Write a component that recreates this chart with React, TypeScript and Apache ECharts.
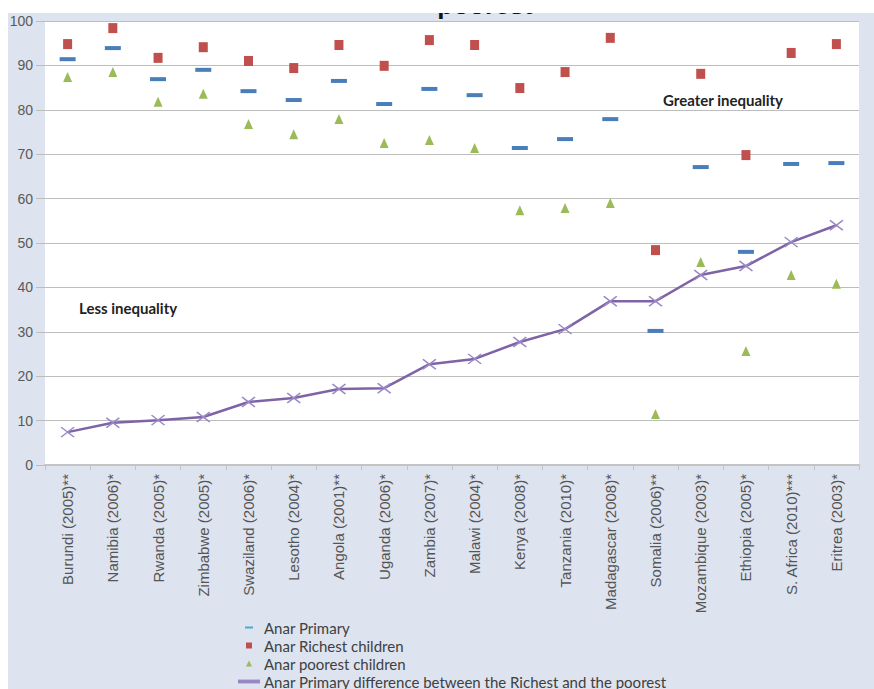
import React, { useEffect, useRef } from "react";
import * as echarts from "echarts";

const categories = [
  "Burundi (2005)**",
  "Namibia (2006)*",
  "Rwanda (2005)*",
  "Zimbabwe (2005)*",
  "Swaziland (2006)*",
  "Lesotho (2004)*",
  "Angola (2001)**",
  "Uganda (2006)*",
  "Zambia (2007)*",
  "Malawi (2004)*",
  "Kenya (2008)*",
  "Tanzania (2010)*",
  "Madagascar (2008)*",
  "Somalia (2006)**",
  "Mozambique (2003)*",
  "Ethiopia (2005)*",
  "S. Africa (2010)***",
  "Eritrea (2003)*",
];

const primary = [91.4, 93.9, 86.9, 89.0, 84.2, 82.2, 86.5, 81.3, 84.7, 83.3, 71.4, 73.4, 77.9, 30.2, 67.1, 48.0, 67.8, 68.0];
const richest = [94.8, 98.4, 91.7, 94.1, 91.0, 89.4, 94.6, 89.9, 95.7, 94.6, 84.9, 88.5, 96.2, 48.4, 88.1, 69.8, 92.8, 94.8];
const poorest = [87.4, 88.5, 81.8, 83.6, 76.8, 74.5, 77.9, 72.5, 73.2, 71.4, 57.4, 57.9, 59.0, 11.5, 45.7, 25.7, 42.8, 40.8];
const difference = [7.4, 9.5, 10.1, 10.8, 14.2, 15.1, 17.1, 17.3, 22.7, 23.9, 27.7, 30.6, 36.9, 36.9, 42.8, 44.8, 50.2, 54.0];

const seriesNames = [
  "Anar Primary",
  "Anar Richest children",
  "Anar poorest children",
  "Anar Primary difference between the Richest and the poorest",
];

const crossPath = "path://M0,0L10,10M10,0L0,10";

export default function App() {
  const ref = useRef<HTMLDivElement>(null);
  useEffect(() => {
    const chart = echarts.init(ref.current!, null, { renderer: "svg" });
    chart.setOption({
      animation: false,
      backgroundColor: "#dde3ef",
      textStyle: { fontFamily: "Liberation Sans" },
      grid: {
        left: 45,
        right: 15,
        top: 21,
        bottom: 224,
        show: true,
        backgroundColor: "#ffffff",
        borderWidth: 0,
      },
      xAxis: {
        type: "category",
        data: categories,
        boundaryGap: true,
        axisLine: { show: true, lineStyle: { color: "#c4c4c4", width: 2 } },
        axisTick: { show: true, length: 5, lineStyle: { color: "#c4c4c4" } },
        axisLabel: {
          rotate: 90,
          interval: 0,
          fontSize: 15,
          color: "#555555",
          margin: 9,
          fontFamily: "Liberation Sans",
        },
        splitLine: { show: false },
      },
      yAxis: {
        type: "value",
        min: 0,
        max: 100,
        interval: 10,
        axisLine: { show: false },
        axisTick: { show: true, length: 9, lineStyle: { color: "#bdbdbd" } },
        axisLabel: { fontSize: 14, color: "#595959", margin: 12, fontFamily: "Liberation Sans" },
        splitLine: { lineStyle: { color: "#bdbdbd", width: 1 } },
      },
      legend: {
        orient: "vertical",
        left: 233,
        top: 615,
        height: 90,
        padding: 5,
        itemWidth: 20,
        itemHeight: 14,
        itemGap: 3,
        selectedMode: false,
        textStyle: { fontFamily: "Lato", fontSize: 15, color: "#404040", lineHeight: 14 },
        data: [
          { name: seriesNames[0], icon: "path://M0,0M20,14M6,6L14,6L14,8L6,8Z", itemStyle: { color: "#4bacc6" } },
          { name: seriesNames[1], icon: "path://M0,0M20,14M7,4L13,4L13,10L7,10Z" },
          { name: seriesNames[2], icon: "path://M0,0M20,14M10,4L13,10L7,10Z" },
          { name: seriesNames[3], icon: "path://M0,0M22,14M0,6L22,6L22,8L0,8Z", itemStyle: { color: "#7e63a6" } },
        ],
      },
      series: [
        {
          name: seriesNames[3],
          type: "line",
          data: difference,
          symbol: crossPath,
          symbolSize: [13, 10],
          showSymbol: true,
          lineStyle: { color: "#7e63a6", width: 2.5 },
          itemStyle: { color: "#9a88c6", borderColor: "#9a88c6", borderWidth: 1.5 },
          emphasis: { disabled: true },
          z: 2,
        },
        {
          name: seriesNames[0],
          type: "scatter",
          data: primary,
          symbol: "rect",
          symbolSize: [16, 4],
          itemStyle: { color: "#4a7ebb", opacity: 1 },
          emphasis: { disabled: true },
          z: 3,
        },
        {
          name: seriesNames[1],
          type: "scatter",
          data: richest,
          symbol: "rect",
          symbolSize: [9, 10],
          itemStyle: { color: "#c0504d", opacity: 1 },
          emphasis: { disabled: true },
          z: 3,
        },
        {
          name: seriesNames[2],
          type: "scatter",
          data: poorest,
          symbol: "triangle",
          symbolSize: [9, 10],
          itemStyle: { color: "#9bbb59", opacity: 1 },
          emphasis: { disabled: true },
          z: 3,
        },
      ],
      graphic: [
        {
          type: "text",
          x: 485,
          y: 18,
          z: 50,
          silent: true,
          style: {
            text: "poorest",
            fontFamily: "Liberation Sans",
            fontWeight: "bold",
            fontSize: 26,
            fill: "#111111",
            align: "center",
            verticalAlign: "bottom",
          },
        },
        {
          type: "rect",
          z: 100,
          silent: true,
          shape: { x: 0, y: 0, width: 874, height: 13 },
          style: { fill: "#ffffff" },
        },
        {
          type: "rect",
          z: 100,
          silent: true,
          shape: { x: 0, y: 0, width: 8, height: 689 },
          style: { fill: "#ffffff" },
        },
        {
          type: "text",
          x: 663,
          y: 100,
          z: 50,
          silent: true,
          style: {
            text: "Greater inequality",
            fontFamily: "Lato",
            fontWeight: "bold",
            fontSize: 15,
            fill: "#222222",
            verticalAlign: "middle",
          },
        },
        {
          type: "text",
          x: 79,
          y: 308,
          z: 50,
          silent: true,
          style: {
            text: "Less inequality",
            fontFamily: "Lato",
            fontWeight: "bold",
            fontSize: 15,
            fill: "#222222",
            verticalAlign: "middle",
          },
        },
      ],
    });
    return () => chart.dispose();
  }, []);
  return (
    <div
      ref={ref}
      style={{ position: "absolute", left: 0, top: 0, width: 874, height: 689 }}
    />
  );
}
